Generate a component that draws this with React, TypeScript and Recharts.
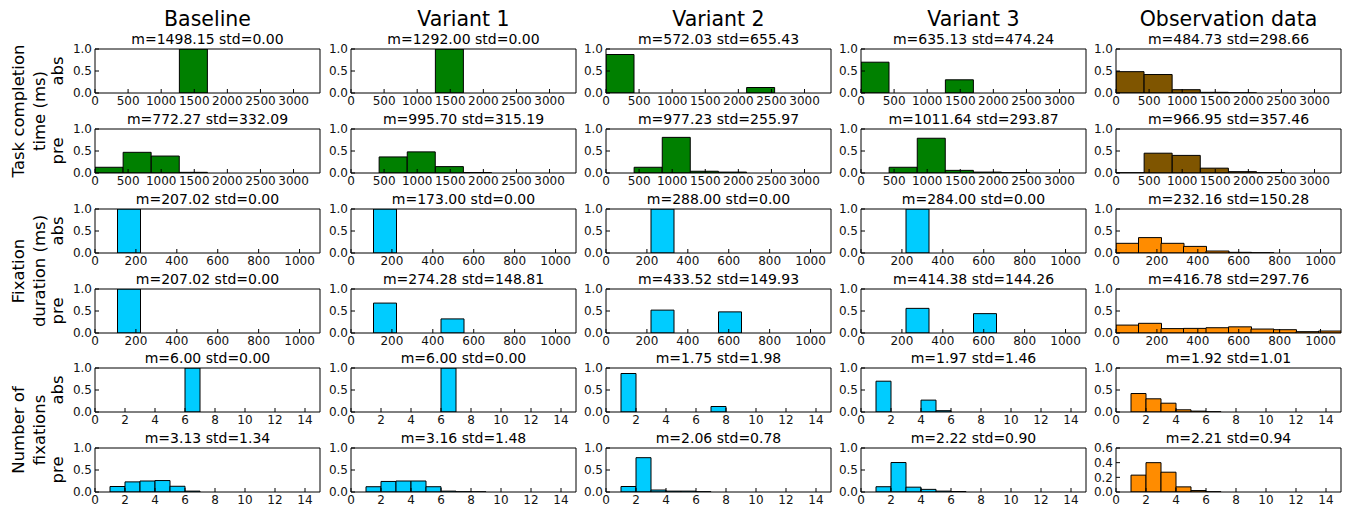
import React from 'react';
import { BarChart, Bar, XAxis, YAxis } from 'recharts';

const columns = ['Baseline', 'Variant 1', 'Variant 2', 'Variant 3', 'Observation data'];

// bin centres of the three histogram kinds
const taskBins = [212.5, 637.5, 1062.5, 1487.5, 1912.5, 2337.5, 2762.5, 3187.5];
const fixBins = [55, 165, 275, 385, 495, 605, 715, 825, 935, 1045];
const countBins = [0.5, 1.5, 2.5, 3.5, 4.5, 5.5, 6.5, 7.5, 8.5, 9.5, 10.5, 11.5, 12.5, 13.5, 14.5];

const taskTicks = [0, 500, 1000, 1500, 2000, 2500, 3000];
const fixTicks = [0, 200, 400, 600, 800, 1000];
const countTicks = [0, 2, 4, 6, 8, 10, 12, 14];

// one list per column, in column order
const taskAbs = [
	[0, 0, 0, 1, 0, 0, 0, 0],
	[0, 0, 0, 1, 0, 0, 0, 0],
	[0.875, 0, 0, 0, 0, 0.125, 0, 0],
	[0.7, 0, 0, 0.3, 0, 0, 0, 0],
	[0.485, 0.42, 0.075, 0.015, 0.003, 0, 0, 0],
];
const taskPre = [
	[0.13, 0.47, 0.385, 0.015, 0, 0, 0, 0],
	[0, 0.365, 0.48, 0.145, 0.01, 0, 0, 0],
	[0, 0.13, 0.81, 0.04, 0.02, 0, 0, 0],
	[0, 0.13, 0.79, 0.06, 0.02, 0.004, 0, 0],
	[0.005, 0.45, 0.4, 0.11, 0.03, 0.005, 0, 0],
];
const fixAbs = [
	[0, 1, 0, 0, 0, 0, 0, 0, 0, 0],
	[0, 1, 0, 0, 0, 0, 0, 0, 0, 0],
	[0, 0, 1, 0, 0, 0, 0, 0, 0, 0],
	[0, 0, 1, 0, 0, 0, 0, 0, 0, 0],
	[0.22, 0.35, 0.22, 0.15, 0.045, 0.015, 0.005, 0, 0, 0],
];
const fixPre = [
	[0, 1, 0, 0, 0, 0, 0, 0, 0, 0],
	[0, 0.68, 0, 0, 0.32, 0, 0, 0, 0, 0],
	[0, 0, 0.52, 0, 0, 0.48, 0, 0, 0, 0],
	[0, 0, 0.56, 0, 0, 0.44, 0, 0, 0, 0],
	[0.18, 0.22, 0.1, 0.105, 0.12, 0.14, 0.09, 0.075, 0.03, 0.045],
];
const countAbs = [
	[0, 0, 0, 0, 0, 0, 1, 0, 0, 0, 0, 0, 0, 0, 0],
	[0, 0, 0, 0, 0, 0, 1, 0, 0, 0, 0, 0, 0, 0, 0],
	[0, 0.875, 0, 0, 0, 0, 0, 0.125, 0, 0, 0, 0, 0, 0, 0],
	[0, 0.7, 0, 0, 0.27, 0.03, 0, 0, 0, 0, 0, 0, 0, 0, 0],
	[0, 0.42, 0.3, 0.2, 0.05, 0.02, 0.005, 0, 0, 0, 0, 0, 0, 0, 0],
];
const countPre = [
	[0, 0.125, 0.23, 0.25, 0.26, 0.13, 0.02, 0, 0, 0, 0, 0, 0, 0, 0],
	[0, 0.12, 0.24, 0.25, 0.25, 0.12, 0.02, 0.005, 0.003, 0, 0, 0, 0, 0, 0],
	[0, 0.125, 0.78, 0.045, 0.02, 0.02, 0.005, 0, 0, 0, 0, 0, 0, 0, 0],
	[0, 0.12, 0.67, 0.11, 0.06, 0.02, 0.01, 0, 0, 0, 0, 0, 0, 0, 0],
	[0, 0.23, 0.4, 0.27, 0.07, 0.02, 0.003, 0, 0, 0, 0, 0, 0, 0, 0],
];

const titles = [
	['m=1498.15 std=0.00', 'm=1292.00 std=0.00', 'm=572.03 std=655.43', 'm=635.13 std=474.24', 'm=484.73 std=298.66'],
	['m=772.27 std=332.09', 'm=995.70 std=315.19', 'm=977.23 std=255.97', 'm=1011.64 std=293.87', 'm=966.95 std=357.46'],
	['m=207.02 std=0.00', 'm=173.00 std=0.00', 'm=288.00 std=0.00', 'm=284.00 std=0.00', 'm=232.16 std=150.28'],
	['m=207.02 std=0.00', 'm=274.28 std=148.81', 'm=433.52 std=149.93', 'm=414.38 std=144.26', 'm=416.78 std=297.76'],
	['m=6.00 std=0.00', 'm=6.00 std=0.00', 'm=1.75 std=1.98', 'm=1.97 std=1.46', 'm=1.92 std=1.01'],
	['m=3.13 std=1.34', 'm=3.16 std=1.48', 'm=2.06 std=0.78', 'm=2.22 std=0.90', 'm=2.21 std=0.94'],
];

const groups = [
	['Task completion', 'time (ms)'],
	['Fixation', 'duration (ms)'],
	['Number of', 'fixations'],
];

const FONT = 'DejaVu Sans';
const GREEN = '#008000';
const CYAN = '#00ccff';
const BROWN = '#7f5500';
const ORANGE = '#ff8c00';

const colLefts = [95, 351, 606, 861, 1116];
const rowTops = [49, 129, 209, 289, 368, 448];
const plotW = 225;
const plotH = 44;
const yW = 30;
const padTop = 8;

const rows = [
	{ values: taskAbs, bins: taskBins, ticks: taskTicks, max: 3400, color: GREEN, obsColor: BROWN },
	{ values: taskPre, bins: taskBins, ticks: taskTicks, max: 3400, color: GREEN, obsColor: BROWN },
	{ values: fixAbs, bins: fixBins, ticks: fixTicks, max: 1100, color: CYAN, obsColor: ORANGE },
	{ values: fixPre, bins: fixBins, ticks: fixTicks, max: 1100, color: CYAN, obsColor: ORANGE },
	{ values: countAbs, bins: countBins, ticks: countTicks, max: 15, color: CYAN, obsColor: ORANGE },
	{ values: countPre, bins: countBins, ticks: countTicks, max: 15, color: CYAN, obsColor: ORANGE },
];

type PanelProps = {
	left: number;
	top: number;
	bins: number[];
	values: number[];
	color: string;
	xMax: number;
	xTicks: number[];
	yMax: number;
	yTicks: number[];
};

const Panel = ({ left, top, bins, values, color, xMax, xTicks, yMax, yTicks }: PanelProps) => {
	const data = bins.map((b, i) => ({ x: b, v: values[i] }));
	const tickStyle = { fill: '#111', fontSize: 12, fontFamily: FONT };
	return (
		<div style={{ position: 'absolute', left: left - yW, top: top - padTop }}>
			<BarChart
				width={yW + plotW + 1 + 6}
				height={padTop + plotH + 20}
				data={data}
				margin={{ top: padTop - 1, right: 6, bottom: 0, left: 0 }}
				barCategoryGap={0}
				barGap={0}
			>
				<XAxis
					xAxisId='b'
					type='number'
					dataKey='x'
					domain={[0, xMax]}
					ticks={xTicks}
					interval={0}
					allowDataOverflow
					height={20}
					tickSize={-4}
					tickMargin={7}
					stroke='#000'
					tick={tickStyle}
				/>
				<XAxis
					xAxisId='t'
					orientation='top'
					type='number'
					dataKey='x'
					domain={[0, xMax]}
					ticks={xTicks}
					interval={0}
					allowDataOverflow
					height={1}
					tickSize={-4}
					tick={false}
					stroke='#000'
				/>
				<YAxis
					yAxisId='l'
					type='number'
					domain={[0, yMax]}
					ticks={yTicks}
					interval={0}
					allowDataOverflow
					width={yW}
					tickSize={-4}
					tickMargin={7}
					stroke='#000'
					tick={tickStyle}
					tickFormatter={(v: number) => v.toFixed(1)}
				/>
				<YAxis
					yAxisId='r'
					orientation='right'
					type='number'
					domain={[0, yMax]}
					ticks={yTicks}
					interval={0}
					allowDataOverflow
					width={1}
					tickSize={-4}
					tick={false}
					stroke='#000'
				/>
				<Bar
					xAxisId='b'
					yAxisId='l'
					dataKey='v'
					fill={color}
					stroke='#000'
					strokeWidth={1}
					isAnimationActive={false}
				/>
			</BarChart>
		</div>
	);
};

const App = () => {
	return (
		<div style={{ position: 'absolute', left: 0, top: 0, width: 1356, height: 510, background: '#fff' }}>
			{rows.map((row, r) =>
				columns.map((_, c) => {
					const isObs = c === 4;
					const smallY = r === 5 && isObs;
					return (
						<Panel
							key={`${r}-${c}`}
							left={colLefts[c]}
							top={rowTops[r]}
							bins={row.bins}
							values={row.values[c]}
							color={isObs ? row.obsColor : row.color}
							xMax={row.max}
							xTicks={row.ticks}
							yMax={smallY ? 0.6 : 1}
							yTicks={smallY ? [0, 0.2, 0.4, 0.6] : [0, 0.5, 1]}
						/>
					);
				})
			)}
			<svg
				width={1356}
				height={510}
				style={{ position: 'absolute', left: 0, top: 0, pointerEvents: 'none' }}
			>
				{columns.map((name, c) => (
					<text
						key={name}
						x={colLefts[c] + plotW / 2}
						y={26}
						textAnchor='middle'
						fontFamily={FONT}
						fontSize={20.5}
						fill='#000'
					>
						{name}
					</text>
				))}
				{titles.map((row, r) =>
					row.map((t, c) => (
						<text
							key={`t${r}-${c}`}
							x={colLefts[c] + plotW / 2}
							y={rowTops[r] - 5}
							textAnchor='middle'
							fontFamily={FONT}
							fontSize={14}
							fill='#000'
						>
							{t}
						</text>
					))
				)}
				{groups.map((lines, i) => {
					const cy = (rowTops[i * 2] + rowTops[i * 2 + 1] + plotH) / 2;
					return (
						<g key={lines[0]}>
							<text
								transform={`translate(24,${cy}) rotate(-90)`}
								textAnchor='middle'
								fontFamily={FONT}
								fontSize={16.5}
								fill='#000'
							>
								{lines[0]}
							</text>
							<text
								transform={`translate(45,${cy}) rotate(-90)`}
								textAnchor='middle'
								fontFamily={FONT}
								fontSize={16.5}
								fill='#000'
							>
								{lines[1]}
							</text>
						</g>
					);
				})}
				{rowTops.map((t, r) => (
					<text
						key={`s${r}`}
						transform={`translate(63,${t + plotH / 2}) rotate(-90)`}
						textAnchor='middle'
						fontFamily={FONT}
						fontSize={16.5}
						fill='#000'
					>
						{r % 2 === 0 ? 'abs' : 'pre'}
					</text>
				))}
			</svg>
		</div>
	);
};

export default App;
